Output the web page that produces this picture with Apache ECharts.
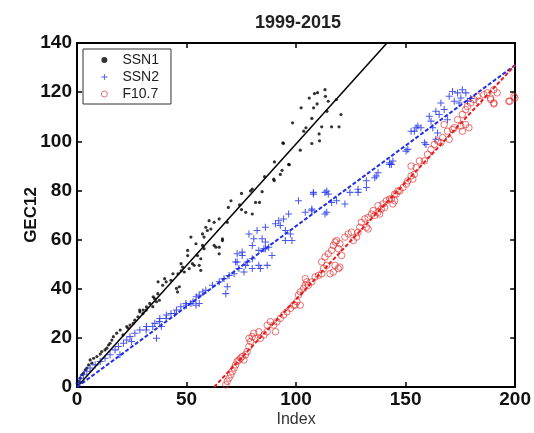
<!DOCTYPE html>
<html>
<head>
<meta charset="utf-8">
<script src="https://cdn.jsdelivr.net/npm/echarts@6/dist/echarts.min.js"></script>
<style>
html,body{margin:0;padding:0;background:#fff;}
#chart{width:534px;height:433px;}
</style>
</head>
<body>
<div id="chart"></div>
<script>
// ---- Data ----
var titleText = '1999-2015';
var xTicks = [0, 50, 100, 150, 200];
var yTicks = [0, 20, 40, 60, 80, 100, 120, 140];

var ssn1Points = [
[0.8,2.3],[1.5,3.6],[2.3,5],[3,5.7],[3.8,7],[4.5,7.7],[5.3,9],[6.8,9.7],[6,11],[7.6,11.7],[9.1,12.4],[10.6,13.4],[11.3,14.4],[12.8,15.1],[13.6,15.8],[14.4,17.1],[15.1,17.8],[15.9,19.1],[16.6,20.5],[18.1,21.9],[19.7,23.2],[21,21.2],[22.7,24.6],[23.3,23.9],[24.2,25.2],[25.7,25.9],[26.4,27.2],[27.8,28.6],[28.6,31.3],[28.7,30.6],[30.1,29.9],[30.2,31.3],[31.6,31.3],[31.7,32.6],[33.2,34],[34.6,32.7],[34.8,36.7],[35.4,36],[36.3,34.7],[36.9,38],[37.6,35.3],[37,42.8],[39.1,41.4],[40,44.1],[40.7,42.8],[42.9,43.4],[43.8,46.1],[45.9,38.7],[45.4,40.1],[46.7,40.8],[46.1,46.1],[47.5,50.2],[47.6,47.3],[48.2,48.8],[49,46.8],[50.5,53.5],[50.5,55.6],[51.2,48.2],[52,61],[52.7,50.2],[53.5,49.5],[54.3,58.3],[55,53.5],[55.8,49.5],[56.5,47.5],[56.5,52.2],[57.3,57.6],[57.3,62.3],[58,61],[58,56.3],[58.8,65],[59.5,63.7],[60.3,67.7],[61.1,64.3],[62.6,67],[62.6,57.6],[63.4,56.9],[64.9,56.9],[64.9,54.2],[64.9,68.4],[66.4,60.3],[66.4,59.6],[68.6,67],[69.1,73.1],[70.3,75.8],[74.2,74.1],[75.1,78.8],[75.1,72.2],[77,71.1],[79.2,79.8],[80,80.5],[80,70.4],[81.5,75.1],[83.3,75.1],[84.5,79.5],[85.6,85.6],[89.8,84.6],[90,84],[90.1,91.6],[92.8,86.5],[93.6,88.2],[94,99.4],[94.2,99.1],[96.6,90.6],[96.9,90.5],[98.4,107.5],[101.9,96.4],[102.3,113.6],[103.5,104.1],[104.5,105.5],[106,117.6],[107.2,109.3],[107.2,99.1],[108,113.6],[108.4,119.4],[109.6,115.2],[109.8,119.8],[110.5,103],[110.7,100.2],[111.7,105.9],[113.2,121],[113.4,118.3],[114.1,112.2],[114.7,116.3],[116.2,105.9],[118.4,117],[119.6,105.9],[120.5,110.9]
];

var ssn2Points = [
[0.8,1.6],[1.5,3.6],[3,5],[4.5,6.4],[6,7.7],[8.3,9],[10.6,10.4],[12.8,11.7],[15.1,13.1],[19.6,13.1],[17.4,15.1],[18.9,16.5],[21.2,17.8],[22.7,19.1],[24.9,18.5],[24.2,20.5],[26.4,21.9],[28.7,23.2],[31.7,24.6],[31.6,23.2],[34.6,24.6],[35.5,25.9],[36.3,19.8],[38.5,24.6],[37.8,27.9],[37.6,26.6],[40.8,29.3],[40.7,27.9],[42.9,29.9],[44.6,29.9],[45.4,31.3],[47.4,32.7],[49.9,33.3],[49.7,34],[52,34],[52.9,34.7],[54.3,33.3],[55.8,34],[54.4,36.7],[55.8,37.4],[57.4,38.7],[58.8,39.4],[61.8,41.4],[64.9,42.8],[67.1,44.1],[67.9,38],[68.6,40.8],[69.4,45.4],[71.7,46.1],[72.4,50.9],[73.1,54.2],[73.1,50.9],[73.9,48.2],[75.4,54.9],[75.4,53.5],[76.2,46.8],[77,49.5],[77.7,50.9],[78.5,62.3],[80,57.6],[80,52.2],[80,48.2],[80.7,60.3],[82.2,63.7],[83,55.6],[83,49.5],[83.7,48.2],[84.5,60.3],[85.3,56.3],[86,65],[86,59],[86,56.3],[86.8,49.5],[87.5,56.9],[89,53.5],[90.6,66.4],[92.1,67.7],[92.8,65.7],[94.3,68.4],[95.1,63.7],[95.1,59.6],[96.6,70.4],[97.4,62.3],[98.1,59.6],[101.1,75.8],[104.2,71.1],[107.2,72.4],[107.2,71.7],[107.9,79.2],[107.9,78.5],[113.2,79.2],[113.2,70.4],[114,79.8],[114,71.1],[114.7,78.5],[116.2,75.1],[118.5,75.8],[122.3,74.5],[124.6,79.2],[128.3,79.2],[128.3,80.5],[132.1,81.2],[132.1,83.9],[135.9,85.2],[136.6,85.9],[137.4,87.2],[142.7,90.6],[142.7,91.3],[143.5,90.6],[144.2,92],[150.2,96],[151,96.7],[152.5,104.1],[154,104.1],[154.8,105.5],[155.6,106.2],[157,105.5],[158.6,99.4],[159.3,98.7],[160.8,110.2],[161.6,108.2],[162.4,105.5],[163.8,112.2],[163.8,100.8],[164.6,103.4],[165.3,110.9],[166.1,115.6],[167.6,112.9],[169.1,108.8],[169.9,118.3],[171.4,120.3],[172.2,116.3],[173.7,119.7],[174.4,115.6],[175.2,117.6],[175.9,121],[177.5,119.7],[178.2,116.3],[179.7,117.4]
];

var f107Points = [
[67.9,0.9],[68.6,2.3],[69.4,3.6],[70.2,5],[70.9,6.3],[71.7,7.7],[72.4,9],[73.1,10.4],[73.9,11],[74.7,11.7],[75.4,12.4],[76.2,11],[76.9,13.1],[77.7,14.4],[78.5,16.5],[78.5,19.8],[79.2,18.5],[80,20.5],[80.7,21.9],[81.5,19.8],[83,22.5],[83.7,19.8],[85.3,21.2],[86.8,22.5],[86.8,25.2],[88.3,26.6],[89.8,25.2],[90.6,22.5],[91.3,26.6],[92.8,27.9],[94.3,29.3],[95.8,30.6],[97.4,32],[98.9,33.3],[99.6,33.3],[100.4,34.7],[101.9,33.3],[101.1,37.4],[101.9,38.7],[103.4,40.1],[104.2,41.4],[104.2,44.1],[104.9,42.8],[105.6,41.4],[107.2,42.8],[108.7,44.8],[110.2,45.4],[111.7,46.1],[111.7,50.9],[112.5,48.2],[113.2,52.9],[114,49.5],[114.7,54.2],[115.5,46.1],[116.2,55.6],[117,46.8],[117,57.6],[117.8,49.5],[117.8,59],[118.5,59.6],[119.3,48.2],[119.3,56.3],[120,48.8],[120,58.3],[120.8,53.5],[122.3,61],[123.8,62.3],[125.3,63],[126.1,59.6],[127.6,61],[128.3,63],[129.1,65],[129.8,67],[131.4,68.4],[132.1,65],[132.9,69],[132.9,64.3],[134.4,70.4],[135.2,71.8],[135.9,69.8],[137.4,71.1],[137.4,73.8],[138.2,70.4],[138.9,72.4],[139.7,74.5],[140.4,73.1],[141.2,75.8],[142.7,76.5],[143.5,76.5],[144.2,74.5],[145,78.5],[145,75.8],[145.7,78.5],[146.5,79.8],[147.3,79.8],[148.8,81.2],[150.3,82.6],[151,83.9],[152.5,85.9],[152.5,89.9],[153.3,84.6],[154,86.6],[154.8,89.3],[156.3,92],[158.6,92],[160,94.7],[161.6,96.7],[163.1,98.7],[164.6,100.1],[166.1,99.4],[166.9,101.5],[167.6,106.8],[169.1,104.1],[169.9,100.8],[171.4,104.8],[172.2,105.5],[173.7,108.8],[175.2,106.2],[175.9,104.1],[175.9,110.9],[177.4,106.8],[177.4,112.9],[178.2,114.2],[178.9,105.5],[179.7,115.6],[181.2,117],[182.7,118.3],[183.5,116.3],[185.7,119],[187.3,119.7],[188.8,117.6],[188.8,117],[190.3,115.6],[190.3,115.2],[190.3,121],[191.8,119.7],[197.1,116.3],[197.6,116.3],[199.4,118.3],[199.9,117.6]
];

// fitted lines (end points)
var ssn1Fit = [[0, 0], [141.5, 140]];
var ssn2Fit = [[0, 0], [200, 131]];
var f107Fit = [[62.6, 0], [200, 131]];

var FONT = 'Liberation Sans, Arial, Helvetica, sans-serif';
var plusPath = 'path://M-0.75,-5 L0.75,-5 L0.75,-0.75 L5,-0.75 L5,0.75 L0.75,0.75 L0.75,5 L-0.75,5 L-0.75,0.75 L-5,0.75 L-5,-0.75 L-0.75,-0.75 Z';

var chart = echarts.init(document.getElementById('chart'), null, {renderer: 'canvas'});

function axisBase(extra) {
  var base = {
    axisLine: {show: true, onZero: false, lineStyle: {color: '#000', width: 2}},
    axisTick: {show: true, inside: true, length: 5, lineStyle: {color: '#000', width: 1.5}},
    splitLine: {show: false}
  };
  for (var k in extra) base[k] = extra[k];
  return base;
}

var option = {
  backgroundColor: '#fff',
  animation: false,
  title: {
    text: titleText,
    left: 250, top: 9,
    textStyle: {fontFamily: FONT, fontSize: 18, fontWeight: 'bold', color: '#222'}
  },
  legend: {
    orient: 'vertical',
    left: 83, top: 49,
    data: [
      {name: 'SSN1', icon: 'circle', itemStyle: {color: '#000'}},
      {name: 'SSN2', icon: plusPath, itemStyle: {color: '#1f2fe8'}},
      {name: 'F10.7', icon: 'circle', itemStyle: {color: 'rgba(0,0,0,0)', borderColor: '#e02020', borderWidth: 0.8}}
    ],
    borderColor: '#333', borderWidth: 1,
    padding: [4, 12, 3, 18],
    itemGap: 3,
    itemWidth: 6, itemHeight: 6,
    textStyle: {fontFamily: FONT, fontSize: 14, color: '#222', padding: [0, 0, 0, 10]},
    backgroundColor: '#fff'
  },
  grid: {left: 77, right: 16, top: 43, bottom: 44, containLabel: false},
  xAxis: [
    axisBase({
      type: 'value', position: 'bottom', min: 0, max: 200, interval: 50,
      name: 'Index', nameLocation: 'middle', nameGap: 25, nameMoveOverlap: false,
      nameTextStyle: {fontFamily: FONT, fontSize: 16, color: '#333'},
      axisLabel: {fontFamily: FONT, fontSize: 19, fontWeight: 'bold', color: '#111', margin: 3,
        formatter: function (v) { return xTicks.indexOf(v) >= 0 ? String(v) : ''; }}
    }),
    axisBase({
      type: 'value', position: 'top', min: 0, max: 200, interval: 50,
      axisLabel: {show: false}
    })
  ],
  yAxis: [
    axisBase({
      type: 'value', position: 'left', min: 0, max: 140, interval: 20,
      name: 'GEC12', nameLocation: 'middle', nameGap: 37, nameRotate: 90, nameMoveOverlap: false,
      nameTextStyle: {fontFamily: FONT, fontSize: 17, fontWeight: 'bold', color: '#111'},
      axisLabel: {fontFamily: FONT, fontSize: 19, fontWeight: 'bold', color: '#111', margin: 5,
        formatter: function (v) { return yTicks.indexOf(v) >= 0 ? String(v) : ''; }}
    }),
    axisBase({
      type: 'value', position: 'right', min: 0, max: 140, interval: 20,
      axisLabel: {show: false}
    })
  ],
  series: [
    {
      name: 'SSN1', type: 'scatter', data: ssn1Points,
      symbol: 'circle', symbolSize: 3.2,
      itemStyle: {color: '#000'}, z: 3
    },
    {
      name: 'SSN2', type: 'scatter', data: ssn2Points,
      symbol: plusPath, symbolSize: 7,
      itemStyle: {color: '#1f2fe8'}, z: 3
    },
    {
      name: 'F10.7', type: 'scatter', data: f107Points,
      symbol: 'circle', symbolSize: 6.5,
      itemStyle: {color: 'rgba(0,0,0,0)', borderColor: '#e02020', borderWidth: 0.8}, z: 3
    },
    {
      name: 'SSN1 fit', type: 'line', data: ssn1Fit, showSymbol: false, symbol: 'none',
      lineStyle: {color: '#000', width: 1.5}, z: 4, clip: true
    },
    {
      name: 'SSN2 fit', type: 'line', data: ssn2Fit, showSymbol: false, symbol: 'none',
      lineStyle: {color: '#1f2fe8', width: 2, type: [4, 2]}, z: 4
    },
    {
      name: 'F10.7 fit', type: 'line', data: f107Fit, showSymbol: false, symbol: 'none',
      lineStyle: {color: '#e02020', width: 2, type: [4, 2]}, z: 4
    }
  ]
};
chart.setOption(option);
</script>
</body>
</html>
